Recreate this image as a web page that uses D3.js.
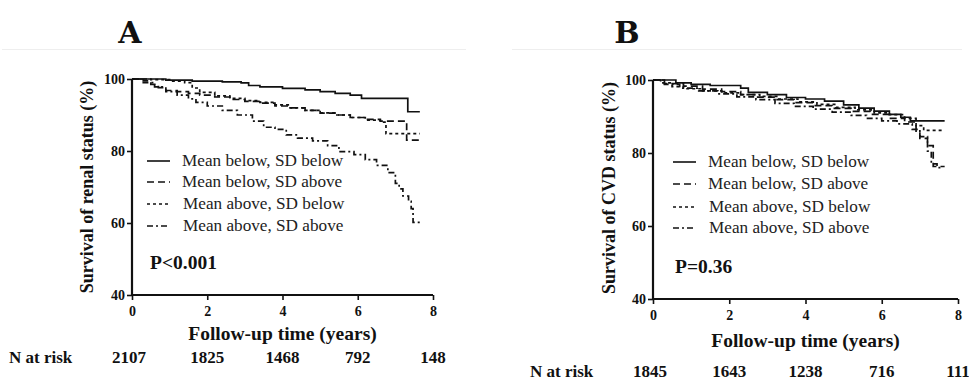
<!DOCTYPE html>
<html><head><meta charset="utf-8">
<script src="https://cdn.jsdelivr.net/npm/d3@7"></script>
<style>
html,body{margin:0;padding:0;background:#fff;}
svg{display:block;}
</style></head>
<body>
<svg id="c" width="969" height="383" font-family="Liberation Serif"></svg>
<script>
// ---------- data ----------
const xTicks = [0, 2, 4, 6, 8];
const yTicks = [40, 60, 80, 100];
const seriesNames = ["Mean below, SD below", "Mean below, SD above", "Mean above, SD below", "Mean above, SD above"];
const panelLabels = ["A", "B"];
const yTitles = ["Survival of renal status (%)", "Survival of CVD status (%)"];
const xTitle = "Follow-up time (years)";
const pTexts = ["P<0.001", "P=0.36"];
const riskA = [2107, 1825, 1468, 792, 148];
const riskB = [1845, 1643, 1238, 716, 111];

// Panel A (renal) — [years, survival %]
const renalMeanBelowSdBelow = [[0,100],[0.9,99.7],[1.6,99.4],[2.4,99.2],[2.9,98.9],[3.1,98.2],[3.4,97.8],[4.0,97.4],[4.6,97.0],[5.0,96.5],[5.4,96.0],[5.8,95.5],[6.1,94.6],[7.33,90.9],[7.65,90.9]];
const renalMeanBelowSdAbove = [[0,100],[0.3,99.5],[0.5,98.5],[0.7,97.6],[0.9,96.8],[1.2,96.5],[1.5,96.0],[1.8,95.5],[2.2,95.0],[2.6,94.3],[3.0,93.8],[3.4,93.3],[3.8,92.5],[4.2,92.0],[4.6,91.3],[5.0,90.5],[5.4,90.0],[5.8,89.3],[6.2,88.8],[6.6,88.3],[7.3,83.0],[7.65,83.0]];
const renalMeanAboveSdBelow = [[0,100],[0.5,99.8],[1.0,99.4],[1.4,99.0],[1.6,97.5],[1.8,96.3],[2.2,95.3],[2.6,94.6],[3.0,94.0],[3.4,93.5],[3.8,92.8],[4.2,92.0],[4.6,91.3],[5.0,90.6],[5.4,90.0],[5.8,89.3],[6.2,88.6],[6.6,88.0],[6.75,84.8],[7.65,84.8]];
const renalMeanAboveSdAbove = [[0,100],[0.3,99.0],[0.6,97.8],[0.9,96.5],[1.2,95.5],[1.5,94.5],[1.7,93.5],[2.0,92.5],[2.4,91.3],[2.8,90.0],[3.2,88.3],[3.5,86.6],[3.8,86.0],[4.1,84.5],[4.4,83.6],[4.8,82.8],[5.2,81.5],[5.5,79.8],[5.9,79.0],[6.2,77.6],[6.5,76.0],[6.8,74.0],[7.0,71.0],[7.1,69.5],[7.2,67.5],[7.35,66.0],[7.42,64.0],[7.47,60.2],[7.65,60.2]];

// Panel B (CVD)
const cvdMeanBelowSdBelow = [[0,100],[0.6,99.2],[1.0,98.8],[1.5,98.5],[2.3,97.8],[2.5,96.6],[3.0,96.0],[3.5,95.2],[4.0,94.8],[4.5,94.2],[5.0,93.2],[5.4,92.3],[5.8,91.5],[6.2,90.6],[6.5,89.8],[6.75,88.8],[7.65,88.8]];
const cvdMeanBelowSdAbove = [[0,100],[0.3,99.0],[0.8,98.3],[1.3,97.5],[1.8,96.8],[2.3,96.0],[2.7,95.3],[3.2,94.6],[3.7,93.8],[4.2,93.0],[4.7,92.2],[5.2,91.4],[5.7,90.6],[6.2,89.5],[6.6,88.5],[6.9,86.0],[7.0,84.0],[7.2,82.0],[7.35,76.3],[7.65,76.3]];
const cvdMeanAboveSdBelow = [[0,100],[0.2,99.2],[0.5,98.2],[0.8,97.6],[1.3,97.0],[1.8,96.5],[2.3,96.0],[2.8,95.5],[3.3,94.8],[3.8,94.0],[4.3,93.3],[4.8,92.5],[5.3,91.8],[5.8,91.0],[6.2,90.5],[6.6,89.5],[6.9,87.5],[7.1,86.2],[7.65,86.2]];
const cvdMeanAboveSdAbove = [[0,100],[0.3,98.8],[0.7,97.8],[1.2,97.0],[1.7,96.2],[2.2,95.4],[2.7,94.6],[3.2,93.6],[3.7,92.8],[4.2,92.0],[4.7,91.2],[5.2,90.3],[5.6,89.5],[6.0,88.8],[6.4,88.0],[6.8,86.5],[7.0,84.5],[7.2,80.5],[7.3,77.0],[7.45,76.0],[7.6,76.0]];

// ---------- drawing ----------
const SERIF = "Liberation Serif";
const dashes = [null, "7,4", "3,3", "6,3,2,3"];
const svg = d3.select("#c");

const panels = [
  {x0:132, x1:433, y100:79, y40:295, label:panelLabels[0], labelX:130, sepX:[2,466],
   series:[renalMeanBelowSdBelow, renalMeanBelowSdAbove, renalMeanAboveSdBelow, renalMeanAboveSdAbove],
   yTitle:yTitles[0], yTitleX:87, yTitleC:187, p:pTexts[0], pX:150, pY:269, legX:147, legY:[166,187,209,231],
   xTitleY:340, riskY:363, riskLabelX:9, risk:riskA},
  {x0:653, x1:958, y100:80, y40:299, label:panelLabels[1], labelX:627, sepX:[512,962],
   series:[cvdMeanBelowSdBelow, cvdMeanBelowSdAbove, cvdMeanAboveSdBelow, cvdMeanAboveSdAbove],
   yTitle:yTitles[1], yTitleX:609, yTitleC:188, p:pTexts[1], pX:675, pY:273, legX:673, legY:[167,189,212,233],
   xTitleY:347, riskY:377, riskLabelX:530, risk:riskB}
];

panels.forEach(P => {
  const x = d3.scaleLinear().domain([0, 8]).range([P.x0, P.x1]);
  const y = d3.scaleLinear().domain([40, 100]).range([P.y40, P.y100]);
  const g = svg.append("g").attr("fill", "#111");

  // separator line + panel label
  g.append("line").attr("x1", P.sepX[0]).attr("x2", P.sepX[1]).attr("y1", 49.5).attr("y2", 49.5)
    .attr("stroke", "#eee").attr("stroke-width", 1);
  g.append("text").attr("x", P.labelX).attr("y", 43).attr("text-anchor", "middle")
    .attr("font-family", "DejaVu Serif").attr("font-weight", "bold").attr("font-size", 30)
    .text(P.label);

  // axes
  const yAxis = d3.axisLeft(y).tickValues(yTicks).tickSize(5).tickPadding(2);
  const gy = g.append("g").attr("transform", `translate(${P.x0},0)`).call(yAxis);
  const xAxis = d3.axisBottom(x).tickValues(xTicks).tickSize(5).tickPadding(6);
  const gx = g.append("g").attr("transform", `translate(0,${P.y40})`).call(xAxis);
  [gy, gx].forEach(a => {
    a.attr("font-family", SERIF).attr("font-size", 14).attr("font-weight", "bold");
    a.select(".domain").attr("stroke", "#111").attr("stroke-width", 2.2);
    a.selectAll(".tick line").attr("stroke", "#111").attr("stroke-width", 1.6);
    a.selectAll(".tick text").attr("fill", "#111");
  });
  gy.select(".domain").attr("d", `M0,${P.y40}V${P.y100}`);
  gx.select(".domain").attr("d", `M${P.x0},0H${P.x1}`);

  // curves
  const line = d3.line().x(d => x(d[0])).y(d => y(d[1])).curve(d3.curveStepAfter);
  P.series.forEach((s, i) => {
    g.append("path").attr("d", line(s)).attr("fill", "none").attr("stroke", "#111")
      .attr("stroke-width", 1.7).attr("stroke-dasharray", dashes[i]);
  });

  // legend
  seriesNames.forEach((n, i) => {
    g.append("line").attr("x1", P.legX).attr("x2", P.legX + 23).attr("y1", P.legY[i] - 5).attr("y2", P.legY[i] - 5)
      .attr("stroke", "#111").attr("stroke-width", 1.6).attr("stroke-dasharray", dashes[i]);
    g.append("text").attr("x", P.legX + 35 + (i >= 2 ? 1 : 0)).attr("y", P.legY[i])
      .attr("font-family", SERIF).attr("font-size", 17.2).attr("fill", "#222").text(n);
  });

  // p value
  g.append("text").attr("x", P.pX).attr("y", P.pY).attr("font-family", SERIF)
    .attr("font-weight", "bold").attr("font-size", 19.5).text(P.p);

  // titles
  g.append("text").attr("transform", `translate(${P.yTitleX},${P.yTitleC}) rotate(-90)`)
    .attr("dy", "0.35em").attr("text-anchor", "middle").attr("font-family", SERIF)
    .attr("font-weight", "bold").attr("font-size", 18).text(P.yTitle);
  g.append("text").attr("x", (P.x0 + P.x1) / 2).attr("y", P.xTitleY).attr("text-anchor", "middle")
    .attr("font-family", SERIF).attr("font-weight", "bold").attr("font-size", 19.5).text(xTitle);

  // N at risk
  g.append("text").attr("x", P.riskLabelX).attr("y", P.riskY).attr("font-family", SERIF)
    .attr("font-weight", "bold").attr("font-size", 17).text("N at risk");
  P.risk.forEach((v, i) => {
    g.append("text").attr("x", x(xTicks[i]) - (i === 0 ? 3 : 0)).attr("y", P.riskY).attr("text-anchor", "middle")
      .attr("font-family", SERIF).attr("font-weight", "bold").attr("font-size", 17).text(v);
  });
});
</script>
</body></html>
